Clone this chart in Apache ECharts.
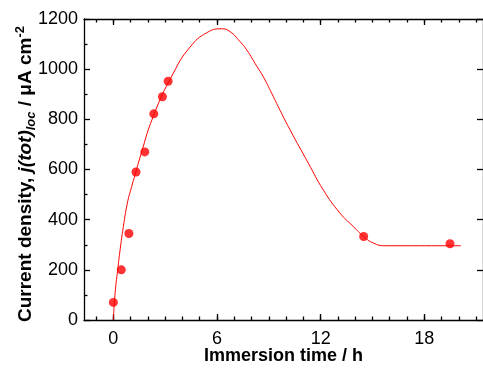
<!DOCTYPE html>
<html>
<head>
<meta charset="utf-8">
<script src="https://cdn.jsdelivr.net/npm/echarts@6/dist/echarts.min.js"></script>
<style>
  html, body { margin: 0; padding: 0; background: #fff; }
  #chart { width: 483px; height: 370px; }
</style>
</head>
<body>
<div id="chart"></div>
<script>
// Measured current density (µA cm^-2) versus immersion time (h)
const pointTimes  = [0, 0.46, 0.9, 1.31, 1.82, 2.34, 2.84, 3.17, 14.49, 19.49];
const pointValues = [70, 200, 345, 590, 670, 822, 890, 952, 333, 304];

// Fitted trend line
const curveTimes  = [0, 0.1, 0.25, 0.39, 0.58, 0.81, 1.06, 1.31, 1.5, 2.31, 3.47, 4.44, 5.4, 6.27,
                     6.75, 7.33, 7.72, 8.3, 8.68, 9.26, 9.65, 10.23, 11.29, 12.15, 13.12, 13.89, 14.49, 15.05, 15.72, 20.12];
const curveValues = [0, 107, 200, 280, 373, 466, 532, 592, 638, 812, 984, 1088, 1145, 1161,
                     1150, 1110, 1077, 1012, 970, 891, 836, 758, 625, 519, 426, 373, 333, 307, 296, 296];

// Axis ticks
const xMajorTicks = [0, 6, 12, 18];
const xMinorTicks = [-1, 0, 1, 2, 3, 4, 5, 6, 7, 8, 9, 10, 11, 12, 13, 14, 15, 16, 17, 18, 19, 20, 21];
const yTickLabels = [0, 200, 400, 600, 800, 1000, 1200];

const FONT = "'Liberation Sans', Arial, sans-serif";
const X_MIN = -1.7, X_MAX = 21.4;
const Y_MIN = yTickLabels[0], Y_MAX = yTickLabels[yTickLabels.length - 1];

const lineStyle = { color: '#000', width: 1.3 };

function xAxisDef(position, ticks, len, opts) {
  return Object.assign({
    type: 'value', position: position, min: X_MIN, max: X_MAX,
    axisLine: { show: false, onZero: false },
    axisTick: { show: true, inside: true, length: len, customValues: ticks, lineStyle: lineStyle },
    axisLabel: { show: false },
    splitLine: { show: false }
  }, opts || {});
}

const chart = echarts.init(document.getElementById('chart'), null, { renderer: 'canvas' });

chart.setOption({
  animation: false,
  backgroundColor: '#fff',
  grid: { left: 84, right: 0, top: 19, bottom: 50, containLabel: false, outerBoundsMode: 'none' },
  xAxis: [
    xAxisDef('bottom', xMajorTicks, 6, {
      axisLine: { show: true, onZero: false, lineStyle: lineStyle },
      axisLabel: {
        show: true, customValues: xMajorTicks, margin: 10,
        fontFamily: FONT, fontSize: 18, color: '#000'
      },
      name: 'Immersion time / h',
      nameLocation: 'middle',
      nameGap: 27,
      nameMoveOverlap: false,
      nameTextStyle: { fontFamily: FONT, fontSize: 18, fontWeight: 'bold', color: '#000' }
    }),
    xAxisDef('bottom', xMinorTicks, 3.5),
    xAxisDef('top', xMajorTicks, 6, { axisLine: { show: true, onZero: false, lineStyle: lineStyle } }),
    xAxisDef('top', xMinorTicks, 3.5)
  ],
  yAxis: [
    {
      type: 'value', position: 'left', min: Y_MIN, max: Y_MAX, interval: 200,
      axisLine: { show: true, onZero: false, lineStyle: lineStyle },
      axisTick: { show: true, inside: true, length: 6, lineStyle: lineStyle },
      minorTick: { show: true, splitNumber: 2, length: 3.5, lineStyle: lineStyle },
      axisLabel: {
        margin: 6, fontFamily: FONT, fontSize: 18, color: '#000',
        formatter: v => String(v)
      },
      splitLine: { show: false },
      name: '{n|Current density, }{it|j(tot)}{sub|loc}{n| / μA cm}{sup|-2}',
      nameLocation: 'middle',
      nameRotate: 90,
      nameGap: 46,
      nameMoveOverlap: false,
      nameTextStyle: {
        fontFamily: FONT, fontSize: 19, fontWeight: 'bold', color: '#000',
        padding: [0, 9, 0, 0],
        rich: {
          n:   { fontFamily: FONT, fontSize: 19, fontWeight: 'bold', color: '#000', lineHeight: 24 },
          it:  { fontFamily: FONT, fontSize: 19, fontWeight: 'bold', fontStyle: 'italic', color: '#000', lineHeight: 24 },
          sub: { fontFamily: FONT, fontSize: 13, fontWeight: 'bold', fontStyle: 'italic', color: '#000', lineHeight: 13, verticalAlign: 'bottom' },
          sup: { fontFamily: FONT, fontSize: 13, fontWeight: 'bold', color: '#000', lineHeight: 13, verticalAlign: 'top' }
        }
      }
    },
    {
      type: 'value', position: 'right', min: Y_MIN, max: Y_MAX, interval: 200,
      axisLine: { show: true, onZero: false, lineStyle: lineStyle },
      axisTick: { show: true, inside: true, length: 6, lineStyle: lineStyle },
      axisLabel: { show: false },
      splitLine: { show: false }
    }
  ],
  series: [
    {
      type: 'line',
      xAxisIndex: 0, yAxisIndex: 0,
      data: curveTimes.map((t, i) => [t, curveValues[i]]),
      smooth: 0.5,
      showSymbol: false,
      lineStyle: { color: '#ff0000', width: 1 },
      z: 2
    },
    {
      type: 'scatter',
      xAxisIndex: 0, yAxisIndex: 0,
      data: pointTimes.map((t, i) => [t, pointValues[i]]),
      symbol: 'circle',
      symbolSize: 9,
      itemStyle: { color: '#ff0000' },
      z: 3
    }
  ]
});
</script>
</body>
</html>
